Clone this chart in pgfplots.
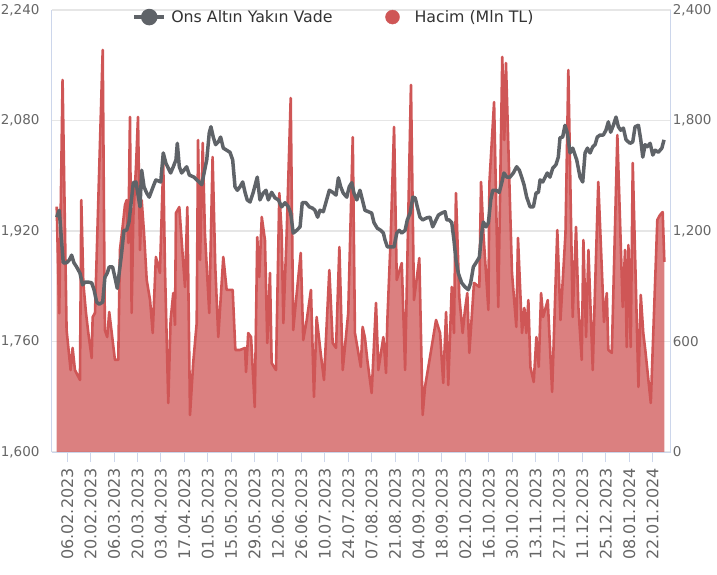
\documentclass[border=0pt]{standalone}
\usepackage{fontspec}
\setmainfont{DejaVu Sans}
\usepackage{pgfplots}
\usepackage{pgfplotstable}
\pgfplotsset{compat=1.18}
\definecolor{redc}{RGB}{207,86,86}
\definecolor{goldc}{RGB}{95,99,104}
\definecolor{gridc}{RGB}{230,230,230}
\definecolor{axisc}{RGB}{204,214,235}
\definecolor{tickc}{RGB}{102,102,102}
\definecolor{legc}{RGB}{51,51,51}

\pgfplotstableread{
d v
30.7 1332
32.2 753
34.2 2020
36.6 662
39.0 445
40.2 565
41.6 445
44.6 391
45.4 1368
46.6 918
48.2 755
49.6 646
51.6 510
52.2 733
53.6 755
58.2 2183
59.5 662
60.9 624
62.1 760
63.6 646
65.5 500
67.5 500
68.5 1097
70.1 1222
71.5 1341
72.5 1368
73.5 1135
74.5 1819
75.5 755
76.5 1276
78.1 1548
79.3 1819
80.5 1097
81.5 1368
82.9 1189
84.5 934
86.5 825
88.1 646
90.0 1059
92.4 972
94.4 1569
95.4 1005
97.4 266
98.8 717
100.4 863
101.4 690
102.0 1298
104.0 1330
106.2 1043
107.4 896
108.8 1330
110.4 201
112.3 483
114.4 700
115.2 1694
116.4 1043
118.0 1678
119.3 1189
121.9 755
123.9 1602
125.5 1005
127.3 624
130.3 1059
132.3 880
135.9 880
137.5 554
140.3 554
143.3 565
143.9 434
145.2 646
146.9 624
149.1 244
150.6 1167
151.8 950
153.3 1276
155.2 1151
156.6 592
158.2 972
159.2 483
161.8 445
163.8 1406
165.2 1189
166.2 700
168.2 1189
170.6 1922
172.1 662
173.8 825
176.6 1081
178.1 608
180.2 717
182.7 880
184.5 299
186.1 733
188.5 538
190.5 391
193.7 988
195.7 592
197.7 565
199.7 1113
201.7 445
205.0 755
207.7 1710
209.0 646
212.5 462
213.6 679
215.0 619
216.4 500
219.0 320
221.6 809
223.0 445
226.0 624
227.6 429
228.4 717
230.4 1167
232.4 1765
234.0 934
237.0 1026
239.0 445
242.5 1993
244.3 825
247.5 1053
249.5 201
250.9 353
253.9 516
257.5 717
259.9 646
261.8 375
263.5 760
264.8 364
266.9 896
268.2 646
269.4 1406
271.4 842
273.4 646
274.8 771
276.2 863
277.4 538
280.2 918
283.4 896
284.4 1466
285.8 1189
288.8 771
289.4 1461
292.2 1900
294.7 787
297.1 2145
298.3 1694
299.3 2112
302.9 972
305.5 679
306.5 1162
308.9 646
310.3 782
311.5 646
312.7 825
313.9 462
315.9 380
317.5 624
318.9 462
320.3 863
321.5 733
324.3 825
326.9 326
330.0 1205
331.9 717
334.9 1189
336.6 2074
339.2 733
341.2 1222
342.6 787
344.6 500
345.6 1151
347.2 624
348.6 1097
351.2 445
352.0 717
354.5 1466
357.9 706
359.6 863
360.5 554
362.6 538
365.9 1721
369.1 787
370.5 1097
371.5 570
372.5 1124
373.9 570
375.1 1569
378.5 353
379.9 853
381.4 646
382.6 554
385.9 266
389.8 1260
391.4 1287
393.0 1303
394.0 1032
}\vol

\pgfplotstableread{
d g
30.7 1940
32.2 1950
34.6 1874
36.6 1874
38.2 1878
39.6 1885
41.0 1874
42.6 1868
44.6 1859
46.2 1842
47.6 1846
49.6 1846
51.6 1845
53.0 1835
54.6 1817
56.1 1814
58.2 1817
59.5 1853
60.9 1859
62.1 1868
64.1 1868
65.5 1853
66.9 1837
68.5 1868
69.5 1888
70.9 1921
72.5 1921
73.9 1933
76.5 1990
78.1 1991
80.5 1955
81.5 2008
82.9 1984
84.5 1975
86.0 1969
88.8 1987
90.0 1994
92.9 1991
94.4 2033
96.0 2018
98.8 2004
100.4 2013
102.0 2023
102.8 2047
104.0 2013
105.4 2004
108.4 2013
110.0 2001
112.8 1998
114.4 1994
115.9 1991
117.4 1987
120.4 2023
121.9 2062
122.9 2071
124.3 2056
125.7 2045
127.3 2049
128.7 2056
130.3 2040
132.3 2037
134.3 2034
135.9 2023
137.3 1984
138.7 1979
140.3 1984
141.9 1991
143.3 1976
144.6 1965
146.3 1962
148.2 1976
150.6 1998
152.2 1965
154.2 1975
155.8 1979
157.2 1965
159.2 1976
161.2 1968
163.2 1965
165.2 1955
167.2 1961
169.2 1955
170.6 1946
172.1 1917
174.2 1921
176.2 1926
177.5 1961
179.7 1961
181.7 1955
183.7 1953
185.1 1950
186.7 1940
188.1 1950
190.1 1948
193.7 1979
195.7 1976
197.7 1972
199.1 1997
200.5 1984
202.0 1975
204.1 1969
205.6 1984
207.1 1990
208.4 1975
210.1 1965
212.0 1979
215.0 1950
219.0 1946
220.4 1932
222.4 1924
224.4 1921
226.0 1917
227.0 1907
228.4 1897
230.0 1897
232.4 1897
234.0 1917
235.5 1921
237.0 1917
239.0 1921
240.3 1936
242.0 1946
243.6 1969
245.0 1968
246.3 1955
247.9 1940
249.5 1936
251.9 1939
253.9 1940
255.5 1926
258.9 1943
260.9 1946
262.9 1948
263.9 1936
265.4 1936
266.9 1932
268.2 1907
269.4 1878
270.8 1859
272.8 1845
274.8 1839
276.8 1835
278.2 1845
279.8 1868
281.4 1874
283.4 1882
284.8 1917
285.8 1933
287.4 1926
288.8 1932
290.2 1965
291.4 1979
293.4 1979
295.3 1976
296.8 1990
298.1 2004
299.8 1998
301.7 1998
303.7 2004
305.7 2013
307.3 2008
308.7 1998
310.1 1987
311.7 1969
313.7 1955
315.7 1955
317.3 1975
318.7 1976
319.7 1994
321.3 1991
324.0 2004
325.6 1998
327.3 2011
329.2 2016
330.6 2027
331.6 2055
333.2 2056
334.6 2073
336.0 2062
337.6 2033
339.2 2040
341.6 2023
343.6 1998
345.2 1991
346.6 2033
348.0 2040
349.6 2033
351.2 2042
352.6 2045
353.9 2056
355.6 2059
357.5 2059
359.1 2066
360.5 2078
361.9 2063
363.5 2073
365.1 2085
366.5 2071
367.9 2066
369.5 2069
371.1 2052
373.5 2047
375.1 2049
376.5 2071
378.5 2073
379.9 2052
381.1 2027
382.5 2045
383.8 2042
385.5 2047
387.1 2030
388.5 2037
390.4 2034
392.5 2040
393.8 2052
}\gold

\pgfplotsset{
  common/.style={
    at={(51.7pt,122pt)}, anchor=south west, scale only axis,
    width=619pt, height=442pt,
    xmin=27.7, xmax=397.8, enlargelimits=false,
    axis line style={axisc, line width=1pt, -},
    ytick style={draw=none},
    /pgf/number format/.cd, fixed, 1000 sep={,}, assume math mode=true,
  }
}

\begin{document}
\begin{tikzpicture}
\path[use as bounding box] (0pt,0pt) rectangle (717pt,574pt);

% volume axis (right)
\begin{axis}[common,
  axis x line=none, axis y line*=right,
  ymin=0, ymax=2400, ytick={0,600,1200,1800,2400},
  ymajorgrids, grid style={gridc, line width=1.5pt},
  yticklabel style={font=\fontsize{13.5}{16}\selectfont, text=tickc, anchor=west, inner sep=0pt, xshift=2pt},
]
\addplot[draw=none, fill=redc, fill opacity=0.75] table[x=d, y=v] {\vol} \closedcycle;
\addplot[redc, line width=2.6pt, line join=round] table[x=d, y=v] {\vol};
\end{axis}

% gold axis (left)
\begin{axis}[common,
  axis x line*=bottom, axis y line*=left,
  ymin=1600, ymax=2240, ytick={1600,1760,1920,2080,2240},
  xtick={37,51,...,387},
  xticklabels={06.02.2023,20.02.2023,06.03.2023,20.03.2023,03.04.2023,17.04.2023,01.05.2023,15.05.2023,29.05.2023,12.06.2023,26.06.2023,10.07.2023,24.07.2023,07.08.2023,21.08.2023,04.09.2023,18.09.2023,02.10.2023,16.10.2023,30.10.2023,13.11.2023,27.11.2023,11.12.2023,25.12.2023,08.01.2024,22.01.2024},
  tick align=outside, major tick length=10pt,
  xtick style={axisc, line width=1pt},
  xticklabel shift=6pt,
  xticklabel style={rotate=90, anchor=east, font=\fontsize{16}{18}\selectfont, text=tickc, inner sep=0pt},
  yticklabel style={font=\fontsize{13.5}{16}\selectfont, text=tickc, anchor=east, inner sep=0pt, xshift=-2pt},
  legend style={at={(0.456,0.984)}, anchor=center, draw=none, fill=none,
    font=\fontsize{15.8}{18}\selectfont, text=legc, legend columns=2,
    /tikz/every even column/.append style={column sep=43pt}},
  legend cell align=left,
]
\addplot[goldc, line width=3.5pt, line join=round,
  legend image code/.code={\path[draw=none] (0pt,0pt) -- (35pt,0pt); \draw[goldc, line width=3.5pt] (0pt,0pt) -- (30pt,0pt); \fill[goldc] (15pt,0pt) circle (6.5pt);}]
  table[x=d, y=g] {\gold};
\addlegendentry{Ons Altın Yakın Vade}
\addlegendimage{legend image code/.code={\path[draw=none] (0pt,0pt) -- (35pt,0pt); \fill[redc] (15pt,0pt) circle (7pt);}}
\addlegendentry{Hacim (Mln TL)}
\end{axis}
\end{tikzpicture}
\end{document}
